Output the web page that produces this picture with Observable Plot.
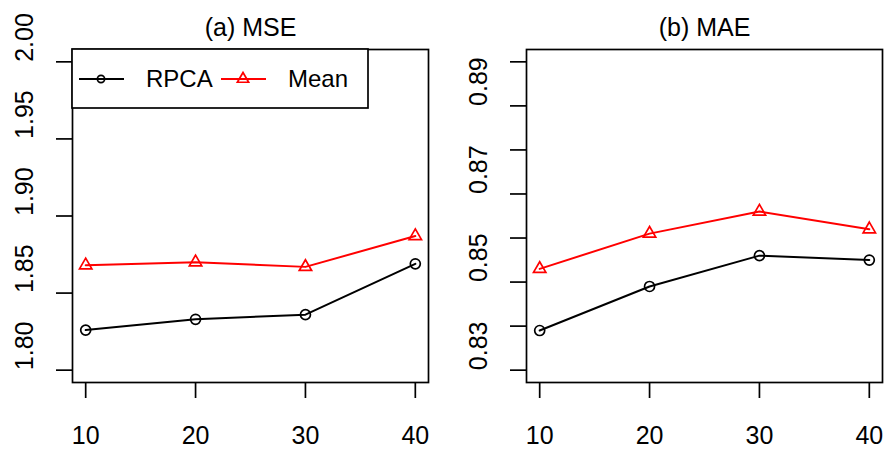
<!DOCTYPE html>
<html>
<head>
<meta charset="utf-8">
<script src="https://cdn.jsdelivr.net/npm/d3@7"></script>
<script src="https://cdn.jsdelivr.net/npm/@observablehq/plot@0.6"></script>
<style>
  html, body { margin: 0; padding: 0; background: white; }
  #wrap { display: flex; width: 888px; height: 449px; }
  svg { display: block; }
</style>
</head>
<body>
<div id="wrap"></div>
<script>
const xs = [10, 20, 30, 40];
const seriesNames = ["RPCA", "Mean"];
const mseRPCA = [1.826, 1.833, 1.836, 1.869];
const mseMean = [1.868, 1.870, 1.867, 1.887];
const maeRPCA = [0.839, 0.849, 0.856, 0.855];
const maeMean = [0.853, 0.861, 0.866, 0.862];
const mseTicks = [1.80, 1.85, 1.90, 1.95, 2.00];
const mseTickLabels = ["1.80", "1.85", "1.90", "1.95", "2.00"];
const maeTicks = [0.83, 0.84, 0.85, 0.86, 0.87, 0.88, 0.89, 0.90];
const maeLabelTicks = [0.83, 0.85, 0.87, 0.89];
const maeTickLabels = ["0.83", "0.85", "0.87", "0.89"];
const titles = ["(a) MSE", "(b) MAE"];
const colors = ["black", "red"];
const symbols = ["circle", "triangle"];

const FONT = "'Liberation Sans', Arial, Helvetica, sans-serif";

function rows(vals) {
  return xs.map((x, i) => ({x, y: vals[i]}));
}

// R-style axis extension (4%)
function ext(lo, hi) { const d = (hi - lo) * 0.04; return [lo - d, hi + d]; }

function panel({a, b, ylim, ticks, labelTicks, labels, title, marginLeft, marginRight}) {
  const ra = rows(a), rb = rows(b);
  return Plot.plot({
    width: 444, height: 449,
    marginLeft, marginRight, marginTop: 49, marginBottom: 67,
    style: {fontFamily: FONT, fontSize: "25px", background: "white", color: "black", overflow: "visible"},
    x: {domain: ext(10, 40)},
    y: {domain: ext(ylim[0], ylim[1])},
    marks: [
      Plot.frame({stroke: "black", strokeWidth: 1.7}),
      Plot.axisX({ticks: xs, tickSize: 16, tickPadding: 28, fontSize: 25, label: null, strokeWidth: 1.7, tickFormat: d => String(d)}),
      Plot.axisY({ticks, tickSize: 16, text: null, label: null, strokeWidth: 1.7}),
      Plot.text(labelTicks, {y: d => d, text: (d, i) => labels[i], frameAnchor: "left", dx: -48, rotate: -90, lineAnchor: "middle", fontSize: 25}),
      Plot.text([title], {frameAnchor: "top", dy: -14, lineAnchor: "bottom", fontSize: 25}),
      Plot.line(ra, {x: "x", y: "y", stroke: colors[0], strokeWidth: 2}),
      Plot.line(rb, {x: "x", y: "y", stroke: colors[1], strokeWidth: 2}),
      Plot.dot(ra, {x: "x", y: "y", stroke: colors[0], symbol: symbols[0], r: 5, fill: "none", strokeWidth: 1.7}),
      Plot.dot(rb, {x: "x", y: "y", stroke: colors[1], symbol: symbols[1], r: 4.6, fill: "none", strokeWidth: 1.7})
    ]
  });
}

const left = panel({
  a: mseRPCA, b: mseMean, ylim: [1.80, 2.00], ticks: mseTicks, labelTicks: mseTicks,
  labels: mseTickLabels, title: titles[0], marginLeft: 72, marginRight: 16
});
const right = panel({
  a: maeRPCA, b: maeMean, ylim: [0.83, 0.90], ticks: maeTicks, labelTicks: maeLabelTicks,
  labels: maeTickLabels, title: titles[1], marginLeft: 82, marginRight: 6
});

// Legend (R-style, top-left inside left panel)
const svg = d3.select(left);
const lg = svg.append("g").attr("font-family", FONT).attr("font-size", 24).attr("text-anchor", "start");
lg.append("rect").attr("x", 72).attr("y", 49).attr("width", 296).attr("height", 59)
  .attr("fill", "white").attr("stroke", "black").attr("stroke-width", 1.7);
const items = [
  {name: seriesNames[0], color: colors[0], sym: d3.symbolCircle, x0: 79, tx: 146, rr: 3.6},
  {name: seriesNames[1], color: colors[1], sym: d3.symbolTriangle, x0: 221, tx: 288, rr: 4.2}
];
for (const it of items) {
  lg.append("line").attr("x1", it.x0).attr("x2", it.x0 + 45).attr("y1", 79).attr("y2", 79)
    .attr("stroke", it.color).attr("stroke-width", 2);
  lg.append("path").attr("d", d3.symbol(it.sym, Math.PI * it.rr * it.rr)())
    .attr("transform", `translate(${it.x0 + 22},79)`)
    .attr("fill", "none").attr("stroke", it.color).attr("stroke-width", 1.7);
  lg.append("text").attr("x", it.tx).attr("y", 87).attr("fill", "black").text(it.name);
}

document.getElementById("wrap").append(left, right);
</script>
</body>
</html>
